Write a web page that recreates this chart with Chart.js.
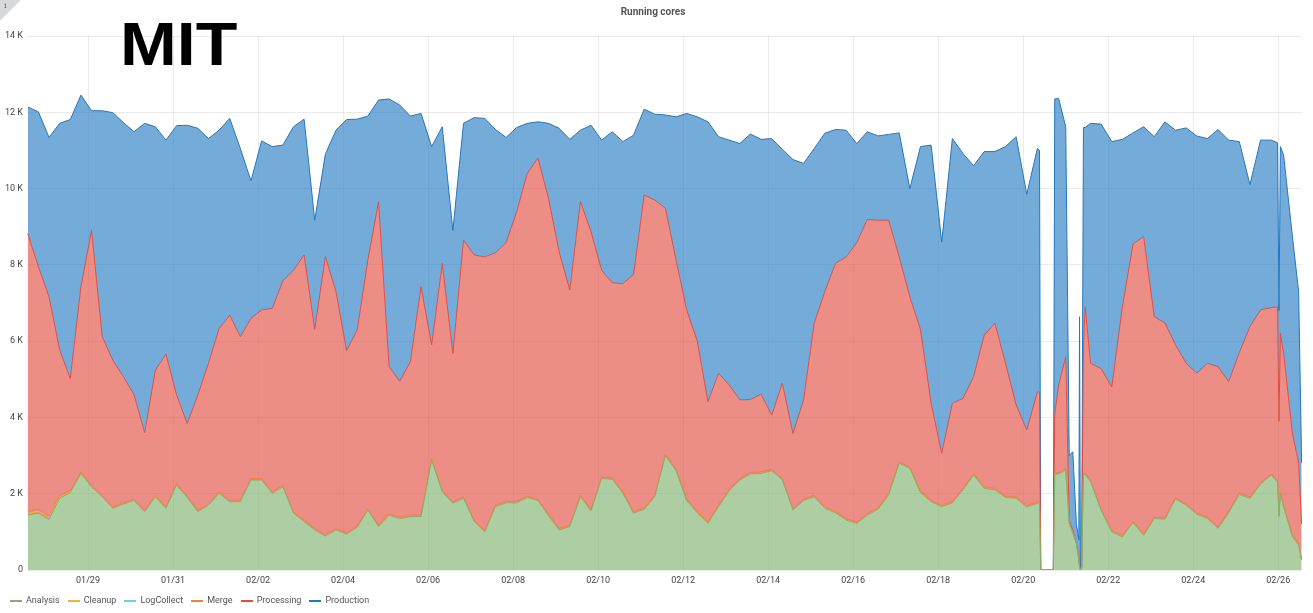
<!DOCTYPE html>
<html>
<head>
<meta charset="utf-8">
<script src="https://cdn.jsdelivr.net/npm/chart.js@4.4.1/dist/chart.umd.min.js"></script>
<style>
  body { margin: 0; background: #fff; }
  #wrap { position: relative; width: 1313px; height: 613px; font-family: Roboto, "DejaVu Sans", sans-serif; }
  #corner { position: absolute; left: 0; top: 0; width: 0; height: 0;
            border-top: 21px solid #d8d9da; border-right: 21px solid transparent; }
  #corner-i { position: absolute; left: 4px; top: 1px; font: 8px/9px "DejaVu Serif", serif; color: #666; }
  #mit { position: absolute; left: 120px; top: 13px; font: bold 62px/62px "Liberation Sans", Arial, sans-serif;
         color: #000; transform: scaleX(1.1); transform-origin: 0 0; }
  #legend { position: absolute; left: 10px; top: 594px; display: flex; font-size: 9px; line-height: 13px; color: #555; }
  .item { display: flex; align-items: center; margin-right: 8px; }
  .dash { width: 12px; height: 2px; margin-right: 4px; }
</style>
</head>
<body>
<div id="wrap">
  <canvas id="cores" width="1313" height="613"></canvas>
  <div id="corner"></div><div id="corner-i">i</div>
  <div id="mit">MIT</div>
  <div id="legend"></div>
</div>
<script>
// hours since 01/27 00:00
const hours = [14,20,26,32,38,44,50,56,62,68,
  74,80,86,92,98,104,110,116,122,128,
  134,140,146,152,158,164,170,176,182,188,
  194,200,206,212,218,224,230,236,242,248,
  254,260,266,272,278,284,290,296,302,308,
  314,320,326,332,338,344,350,356,362,368,
  374,380,386,392,398,404,410,416,422,428,
  434,440,446,452,458,464,470,476,482,488,
  494,500,506,512,518,524,530,536,542,548,
  554,560,566,572,578,584,
  585.2,585.9,590,593,593.8,596,600,602,604,606,607.4,607.8,608.3,609,610,611,
  614,620,626,632,638,644,650,656,662,668,674,680,686,692,698,704,710,716,
  719.6,720.4,721.2,723,728,731.5,733.2];

const tickLabels = ['01/29','01/31','02/02','02/04','02/06','02/08','02/10','02/12',
  '02/14','02/16','02/18','02/20','02/22','02/24','02/26'];

// running cores, thousands
const analysis = [1.44,1.49,1.33,1.88,2.03,2.53,2.18,1.92,1.62,1.73,
  1.82,1.53,1.92,1.62,2.23,1.90,1.53,1.70,2.01,1.79,
  1.79,2.36,2.36,2.01,2.18,1.49,1.27,1.05,0.89,1.05,
  0.94,1.12,1.57,1.14,1.44,1.35,1.40,1.40,2.88,2.05,
  1.75,1.88,1.27,1.00,1.66,1.76,1.76,1.90,1.82,1.42,
  1.05,1.14,1.92,1.55,2.40,2.38,2.01,1.49,1.59,1.92,
  3.00,2.60,1.82,1.50,1.22,1.66,2.08,2.36,2.52,2.53,
  2.60,2.36,1.57,1.82,1.92,1.62,1.50,1.31,1.22,1.44,
  1.59,1.97,2.80,2.66,2.03,1.79,1.66,1.76,2.10,2.49,
  2.14,2.10,1.90,1.88,1.65,1.75,
  1.75,0,0,0,2.50,2.52,2.62,1.20,0.96,0.70,0.26,0.10,0,0.05,2.50,2.50,
  2.32,1.56,1.00,0.87,1.24,0.91,1.35,1.33,1.86,1.70,1.46,1.35,1.09,1.50,1.98,1.88,2.25,2.49,
  2.30,1.40,2.00,1.66,0.87,0.66,0.26];

const cleanup = [0.04,0.05,0.04,0.03,0.02];

const logCollect = [];

const merge = [0.06,0.06,0.05,0.04,0.04,0.04,0.04,0.04,0.04,0.04,
  0.04,0.04,0.04,0.04,0.04,0.04,0.04,0.04,0.04,0.04,
  0.04,0.04,0.04,0.04,0.04,0.04,0.04,0.04,0.04,0.04,
  0.04,0.04,0.04,0.04,0.04,0.04,0.04,0.04,0.04,0.04,
  0.04,0.04,0.04,0.04,0.04,0.04,0.04,0.04,0.04,0.04,
  0.04,0.04,0.04,0.04,0.04,0.04,0.04,0.04,0.04,0.04,
  0.04,0.04,0.04,0.04,0.04,0.04,0.04,0.04,0.04,0.04,
  0.04,0.04,0.04,0.04,0.04,0.04,0.04,0.04,0.04,0.04,
  0.04,0.04,0.04,0.04,0.04,0.04,0.04,0.04,0.04,0.04,
  0.04,0.04,0.04,0.04,0.04,0.04,
  0.04,0,0,0,0.04,0.04,0.04,0.04,0.04,0,0,0,0,0,0.04,0.04,
  0.04,0.04,0.04,0.04,0.04,0.04,0.04,0.04,0.04,0.04,0.04,0.04,0.04,0.04,0.04,0.04,0.04,0.04,
  0.04,0.04,0.04,0.04,0.04,0.04,0.02];

// upper edge of the Processing band (everything up to Processing)
const processingTop = [8.82,7.95,7.16,5.77,5.02,7.43,8.90,6.12,5.50,5.07,
  4.59,3.60,5.24,5.66,4.59,3.84,4.59,5.42,6.33,6.68,
  6.12,6.60,6.82,6.86,7.58,7.86,8.26,6.31,8.21,7.30,
  5.75,6.30,8.13,9.65,5.33,4.95,5.46,7.43,5.90,8.04,
  5.68,8.65,8.26,8.21,8.32,8.58,9.39,10.40,10.80,9.74,
  8.34,7.34,9.66,8.87,7.86,7.53,7.51,7.75,9.83,9.70,
  9.48,8.13,6.82,6.00,4.41,5.16,4.85,4.46,4.47,4.61,
  4.06,4.90,3.58,4.46,6.47,7.30,8.04,8.21,8.58,9.19,
  9.17,9.17,8.21,7.16,6.31,4.37,3.06,4.37,4.50,5.07,
  6.16,6.47,5.42,4.33,3.67,4.67,
  4.67,0,0,0,4.10,4.85,5.59,1.30,1.05,0.70,0.35,0.10,0,0.05,5.90,6.90,
  5.42,5.28,4.80,6.90,8.55,8.74,6.64,6.48,5.90,5.42,5.16,5.42,5.33,4.94,5.70,6.38,6.82,6.88,
  6.90,3.90,6.20,5.68,3.58,2.80,1.20];

// total running cores (upper edge of Production)
const totalCores = [12.14,12.01,11.34,11.71,11.81,12.45,12.04,12.04,11.99,11.73,
  11.49,11.71,11.62,11.27,11.65,11.66,11.58,11.31,11.53,11.84,
  11.05,10.20,11.25,11.10,11.14,11.62,11.82,9.17,10.90,11.53,
  11.81,11.82,11.90,12.32,12.35,12.19,11.90,11.97,11.10,11.62,
  8.90,11.71,11.86,11.84,11.55,11.34,11.60,11.71,11.75,11.71,
  11.58,11.29,11.53,11.66,11.27,11.49,11.23,11.40,12.08,11.95,
  11.93,11.88,11.97,11.88,11.75,11.36,11.27,11.18,11.43,11.29,
  11.31,11.03,10.76,10.66,11.05,11.45,11.55,11.53,11.18,11.49,
  11.38,11.42,11.46,10.00,11.10,11.14,8.60,11.31,10.92,10.60,
  10.97,10.97,11.10,11.36,9.85,11.05,
  11.00,0,0,0,12.35,12.36,11.62,3.00,3.10,1.22,0.79,6.64,0.05,0.10,11.60,11.60,
  11.71,11.69,11.23,11.29,11.46,11.62,11.36,11.75,11.53,11.59,11.38,11.31,11.55,11.27,11.23,10.10,11.27,11.27,
  11.20,6.80,11.10,10.88,8.74,7.30,2.80];

const processing = processingTop.map((v, i) =>
  Math.max(0, +(v - analysis[i] - (cleanup[i] || 0) - merge[i]).toFixed(3)));
const production = totalCores.map((v, i) => Math.max(0, +(v - processingTop[i]).toFixed(3)));

const colors = {
  Analysis: '#7EB26D', Cleanup: '#EAB839', LogCollect: '#6ED0E0',
  Merge: '#EF843C', Processing: '#E24D42', Production: '#1F78C1'
};

function pts(arr) {
  return arr.map((v, i) => ({ x: hours[i], y: v }));
}

const series = [
  { label: 'Analysis', data: pts(analysis), fill: 'origin', backgroundColor: 'rgba(126,178,109,0.64)' },
  { label: 'Cleanup', data: pts(cleanup), fill: false },
  { label: 'LogCollect', data: pts(logCollect), fill: false },
  { label: 'Merge', data: pts(merge), fill: false },
  { label: 'Processing', data: pts(processing), fill: 0, backgroundColor: 'rgba(226,77,66,0.64)' },
  { label: 'Production', data: pts(production), fill: '-1', backgroundColor: 'rgba(31,120,193,0.62)' }
];
series.forEach(s => { s.borderColor = colors[s.label]; s.borderWidth = 1; });

const gridColor = 'rgba(0,0,0,0.08)';
const tickFont = { family: 'Roboto', size: 9 };

new Chart(document.getElementById('cores'), {
  type: 'line',
  data: { datasets: series },
  options: {
    responsive: false,
    animation: false,
    layout: { padding: { left: 4, right: 11, top: 0, bottom: 22 } },
    elements: { line: { tension: 0 }, point: { radius: 0 } },
    plugins: {
      legend: { display: false },
      tooltip: { enabled: false },
      filler: { drawTime: 'beforeDatasetsDraw' },
      title: {
        display: true, text: 'Running cores', color: '#555',
        font: { family: 'Roboto', size: 10, weight: 'bold' },
        padding: { top: 6, bottom: 18 }
      }
    },
    scales: {
      x: {
        type: 'linear', min: 13.55, max: 733.4, bounds: 'data',
        grid: { color: gridColor, drawTicks: false },
        border: { display: false },
        afterBuildTicks: axis => { axis.ticks = tickLabels.map((_, k) => ({ value: 48 + 48 * k })); },
        afterFit: axis => { axis.height = 21; },
        ticks: {
          autoSkip: false, maxRotation: 0, padding: 5, color: '#444', font: tickFont,
          callback: (v, k) => tickLabels[k]
        }
      },
      y: {
        stacked: true, min: 0, max: 14,
        grid: { color: gridColor, drawTicks: false },
        border: { display: false },
        afterFit: axis => { axis.width = 23; },
        ticks: {
          stepSize: 2, padding: 4, color: '#444', font: tickFont,
          callback: v => v === 0 ? '0' : v + ' K'
        }
      }
    }
  }
});

const legend = document.getElementById('legend');
Object.keys(colors).forEach(name => {
  const item = document.createElement('div');
  item.className = 'item';
  item.innerHTML = '<span class="dash" style="background:' + colors[name] + '"></span><span>' + name + '</span>';
  legend.appendChild(item);
});
</script>
</body>
</html>
